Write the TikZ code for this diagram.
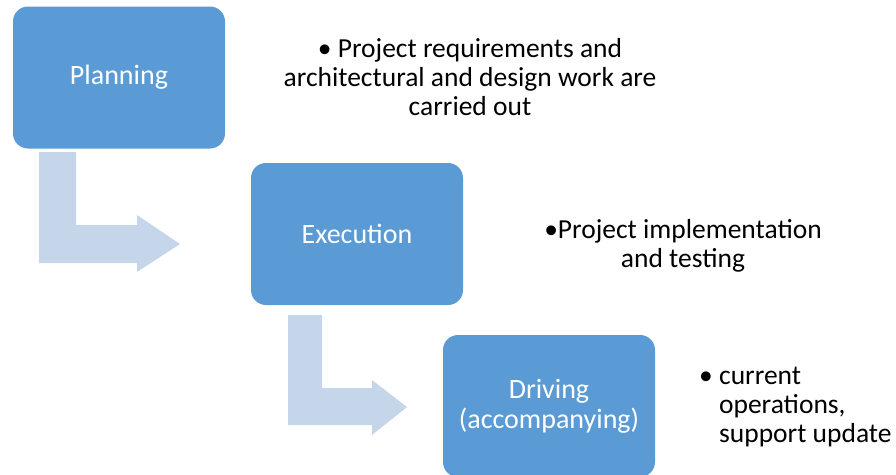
\documentclass[tikz,border=0pt]{standalone}
\usepackage{fontspec}
\setmainfont{Carlito}
\definecolor{boxblue}{HTML}{5B9BD5}
\definecolor{arrowblue}{HTML}{C5D5EA}

\begin{document}
\begin{tikzpicture}[x=1pt,y=-1pt]

      \useasboundingbox (0,0) rectangle (896,474);

      \begin{scope}[every node/.style={fill=boxblue,rounded corners=15pt,
          minimum width=212pt,minimum height=142pt,inner sep=0pt,
          text=white,align=center,font=\fontsize{28}{30}\selectfont}]
        \node (plan) at (119,77.5) {Planning};
        \node (exec) at (357,234) {Execution};
        \node (drive) at (549,406) {Driving\\(accompanying)};
      \end{scope}

      % bent arrows between the stages
      \begin{scope}[every path/.style={fill=arrowblue}]
        \path (39,152) -- (76,152) -- (76,225) -- (137,225) -- (137,215)
          -- (180,244) -- (137,272) -- (137,263) -- (39,263) -- cycle;
        \path (288,315) -- (322,315) -- (322,388) -- (372,388) -- (372,380)
          -- (407,407) -- (372,435) -- (372,425) -- (288,425) -- cycle;
      \end{scope}

      \begin{scope}[every node/.style={inner sep=0pt,
          font=\fontsize{27.5}{29}\selectfont}]
        \node[align=center] (plannote) at (470,77)
          {• Project requirements and\\architectural and design work are\\carried out};
        \node[align=center] (execnote) at (683,246)
          {•Project implementation\\and testing};
        \node[align=left,anchor=west] (drivenote) at (699,407)
          {• current\\\phantom{• }operations,\\\phantom{• }support update};
      \end{scope}

    \end{tikzpicture}
\end{document}
